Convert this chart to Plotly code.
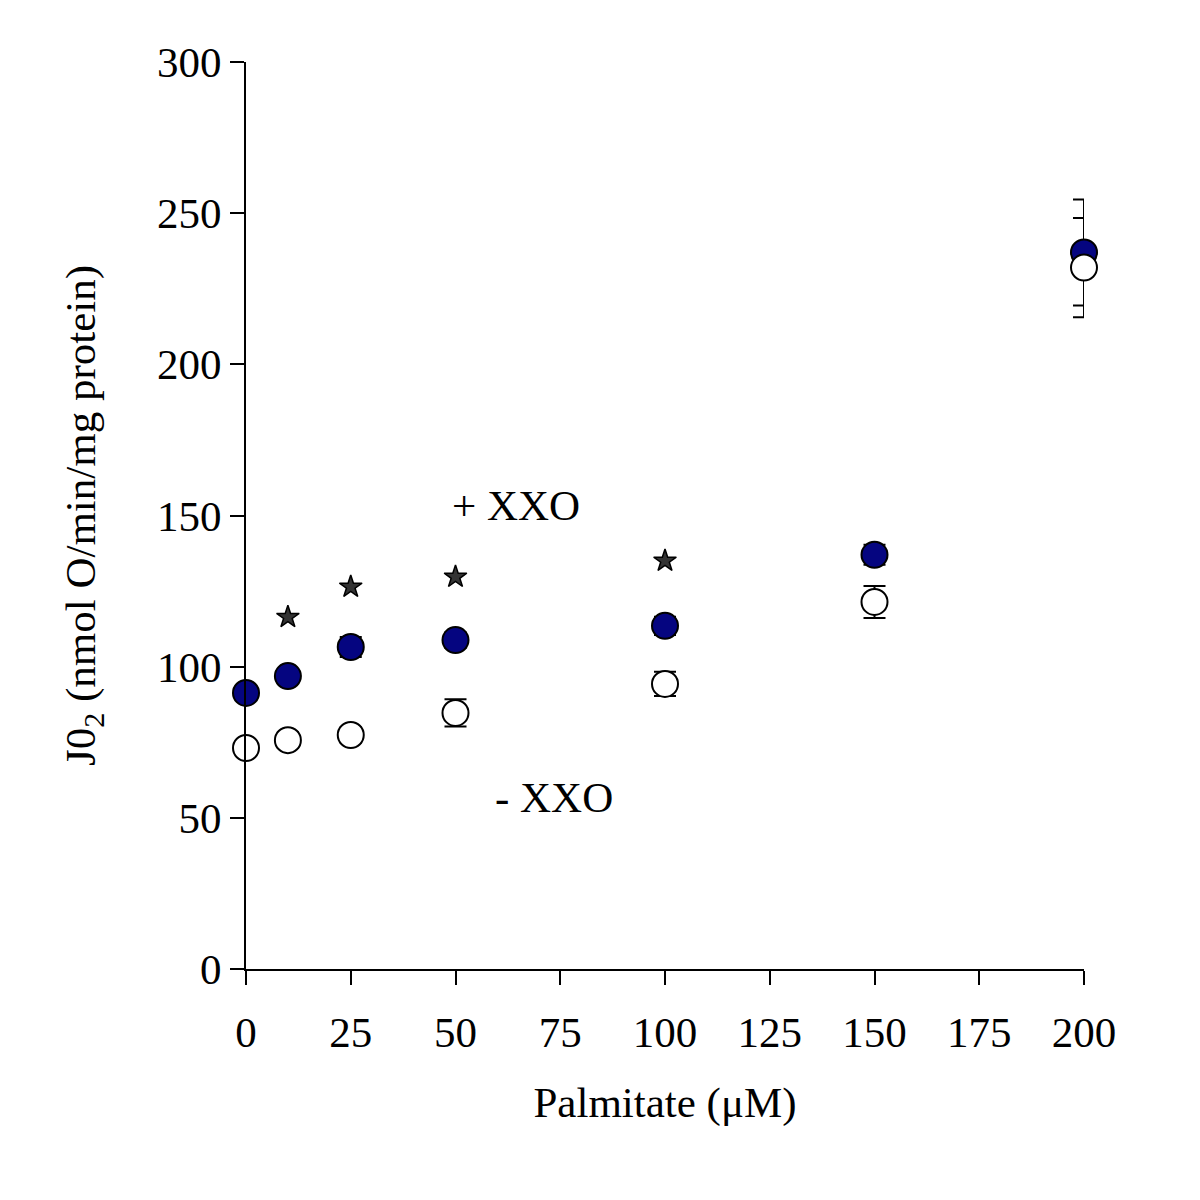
import plotly.graph_objects as go

palmitate = [0, 10, 25, 50, 100, 150, 200]
plus_xxo = [91.3, 96.9, 106.5, 108.8, 113.5, 137.0, 237.0]
plus_err = [2.0, 2.0, 3.3, 2.6, 3.0, 3.3, 17.5]
minus_xxo = [73.1, 75.7, 77.4, 84.7, 94.3, 121.4, 232.0]
minus_err = [1.5, 2.6, 2.6, 4.5, 4.0, 5.3, 16.4]
star_x = [10, 25, 50, 100]
star_y = [116.4, 126.4, 129.7, 135.0]

x_ticks = [0, 25, 50, 75, 100, 125, 150, 175, 200]
y_ticks = [0, 50, 100, 150, 200, 250, 300]

FONT = "Liberation Serif, Times New Roman, serif"
FS = 43

fig = go.Figure()

# error bars first (below all markers)
for ys, errs in [(plus_xxo, plus_err), (minus_xxo, minus_err)]:
    fig.add_trace(go.Scatter(
        x=palmitate, y=ys, mode="markers", cliponaxis=False,
        marker=dict(size=1, color="rgba(0,0,0,0)"),
        error_y=dict(type="data", array=errs, visible=True,
                     color="black", thickness=2, width=11),
        showlegend=False, hoverinfo="skip"))

fig.add_trace(go.Scatter(
    x=palmitate, y=plus_xxo, mode="markers", name="+ XXO", cliponaxis=False,
    marker=dict(size=26, color="#050580", line=dict(color="black", width=2)),
    showlegend=False))
fig.add_trace(go.Scatter(
    x=palmitate, y=minus_xxo, mode="markers", name="- XXO", cliponaxis=False,
    marker=dict(size=26, color="white", line=dict(color="black", width=2)),
    showlegend=False))
fig.add_trace(go.Scatter(
    x=star_x, y=star_y, mode="markers", name="significant", cliponaxis=False,
    marker=dict(symbol="star", size=17, color="#333333", line=dict(color="black", width=1.5)),
    showlegend=False))

fig.add_annotation(x=64.4, y=153.2, text="+ XXO", showarrow=False,
                   font=dict(family=FONT, size=FS, color="black"))
fig.add_annotation(x=73.5, y=56.6, text="- XXO", showarrow=False,
                   font=dict(family=FONT, size=FS, color="black"))

fig.update_layout(
    width=1200, height=1200,
    margin=dict(l=238, r=124, t=54, b=239),
    paper_bgcolor="white", plot_bgcolor="white",
    font=dict(family=FONT, size=FS, color="black"),
)
fig.update_xaxes(
    range=[0, 200], tickvals=x_ticks, ticks="outside", ticklen=14, tickwidth=2,
    tickcolor="black", showline=True, linecolor="black", linewidth=2,
    showgrid=False, zeroline=False, tickfont=dict(family=FONT, size=FS),
    automargin=False, ticklabelstandoff=10,
    title=dict(text="Palmitate (μM)", font=dict(family=FONT, size=FS), standoff=32),
)
fig.update_yaxes(
    range=[0, 300], tickvals=y_ticks, ticks="outside", ticklen=14, tickwidth=2,
    tickcolor="black", showline=True, linecolor="black", linewidth=2,
    showgrid=False, zeroline=False, tickfont=dict(family=FONT, size=FS),
    automargin=False,
    title=dict(text="J0<sub>2</sub> (nmol O/min/mg protein)", font=dict(family=FONT, size=FS), standoff=48),
)

fig.write_html("out.html")
